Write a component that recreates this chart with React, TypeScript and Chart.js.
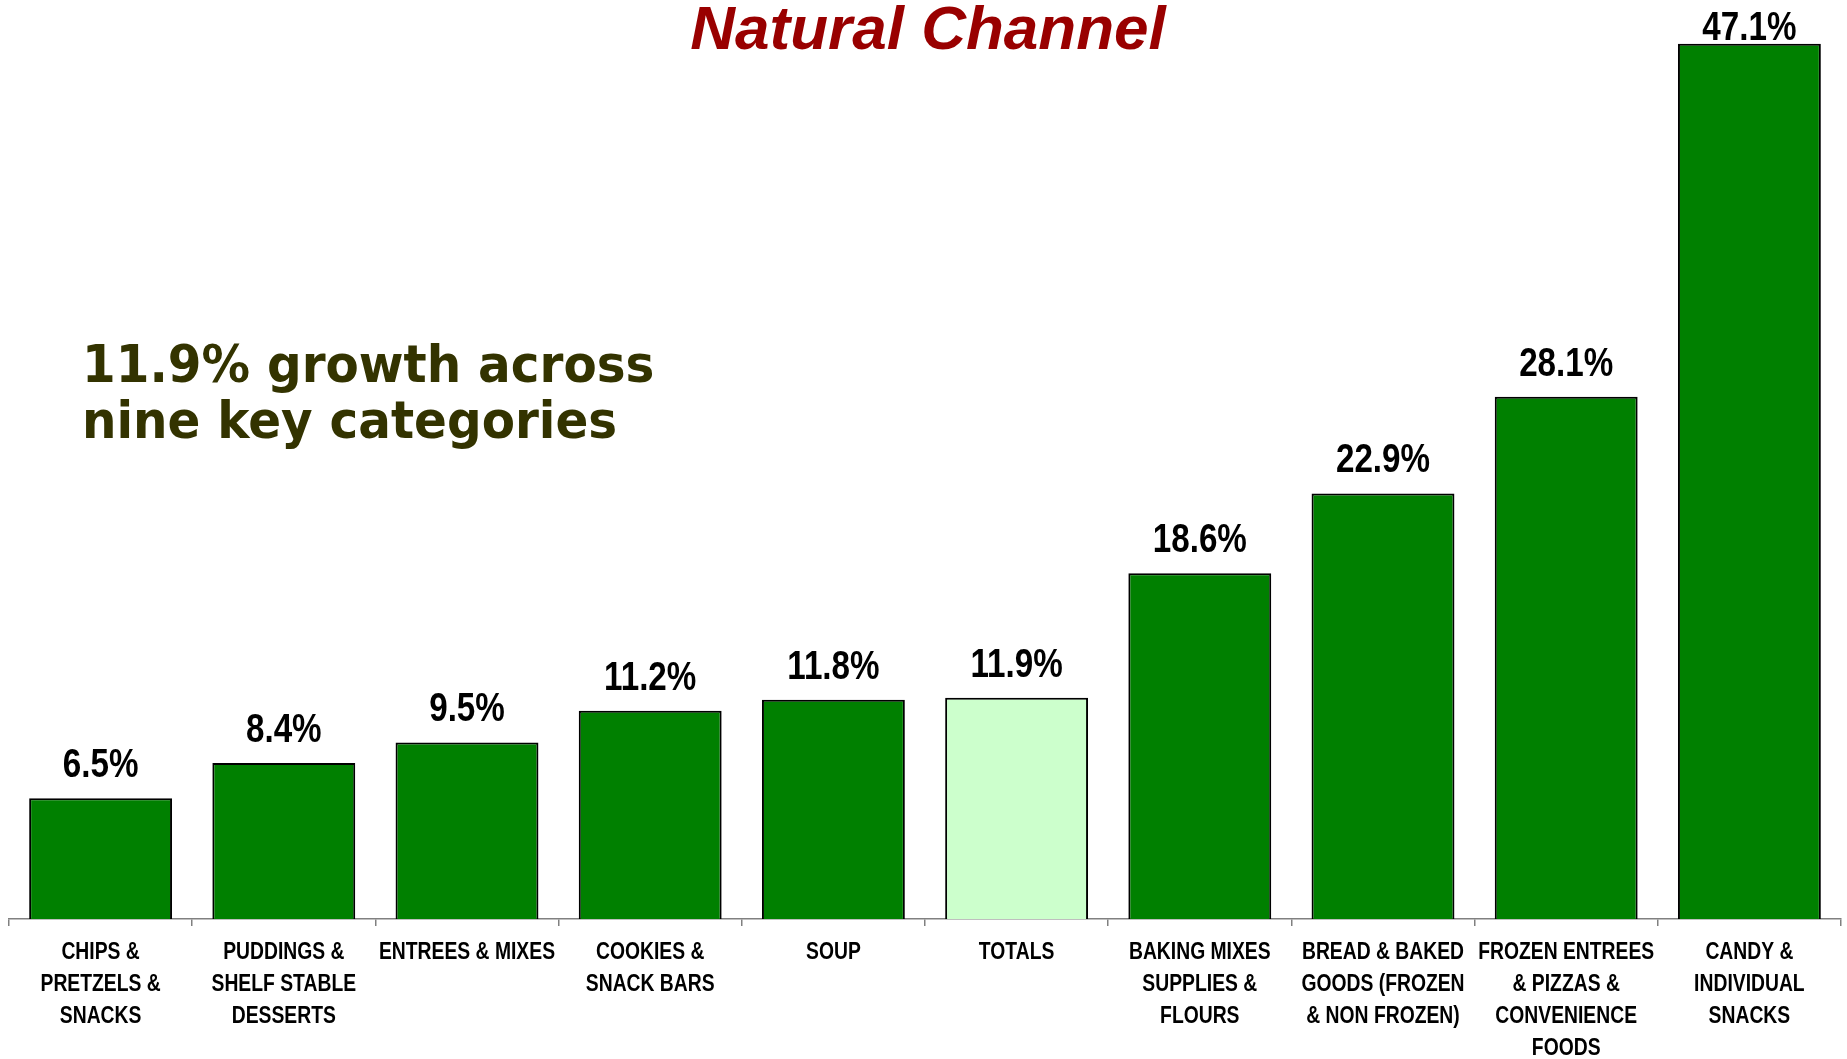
import React, { useEffect, useRef } from "react";
import { Chart, registerables } from "chart.js";

Chart.register(...registerables);

const TITLE = "Natural Channel";
const NOTE_LINES = ["11.9% growth across", "nine key categories"];

const categories: string[][] = [
  ["CHIPS &", "PRETZELS &", "SNACKS"],
  ["PUDDINGS &", "SHELF STABLE", "DESSERTS"],
  ["ENTREES & MIXES"],
  ["COOKIES &", "SNACK BARS"],
  ["SOUP"],
  ["TOTALS"],
  ["BAKING MIXES", "SUPPLIES &", "FLOURS"],
  ["BREAD & BAKED", "GOODS (FROZEN", "& NON FROZEN)"],
  ["FROZEN ENTREES", "& PIZZAS &", "CONVENIENCE", "FOODS"],
  ["CANDY &", "INDIVIDUAL", "SNACKS"],
];

const growth: number[] = [6.5, 8.4, 9.5, 11.2, 11.8, 11.9, 18.6, 22.9, 28.1, 47.1];

const HIGHLIGHT = "TOTALS";

const ARIAL = "'Liberation Sans', Arial, sans-serif";

function drawScaled(ctx: CanvasRenderingContext2D, text: string, x: number, y: number, sx: number) {
  ctx.save();
  ctx.translate(x, y);
  ctx.scale(sx, 1);
  ctx.fillText(text, 0, 0);
  ctx.restore();
}

const overlayPlugin = {
  id: "overlay",
  afterDatasetsDraw(chart: any) {
    const ctx = chart.ctx as CanvasRenderingContext2D;
    const meta = chart.getDatasetMeta(0);
    ctx.save();
    ctx.fillStyle = "#000000";
    ctx.font = `bold 40px ${ARIAL}`;
    ctx.textAlign = "center";
    ctx.textBaseline = "alphabetic";
    meta.data.forEach((bar: any, i: number) => {
      const y = Math.max(bar.y - 21, 40);
      drawScaled(ctx, growth[i].toFixed(1) + "%", bar.x, y, 0.83);
    });
    ctx.restore();
  },
  afterDraw(chart: any) {
    const ctx = chart.ctx as CanvasRenderingContext2D;
    const xScale = chart.scales.x;
    ctx.save();
    // category labels under the axis
    ctx.fillStyle = "#000000";
    ctx.font = `bold 23px ${ARIAL}`;
    ctx.textAlign = "center";
    ctx.textBaseline = "middle";
    const top = xScale.top;
    categories.forEach((lines, i) => {
      const x = xScale.getPixelForValue(i);
      lines.forEach((line, j) => {
        drawScaled(ctx, line, x, top + 34 + j * 31.8, 0.84);
      });
    });

    // title
    ctx.fillStyle = "#990000";
    ctx.font = `italic bold 62px ${ARIAL}`;
    ctx.textAlign = "center";
    ctx.textBaseline = "alphabetic";
    ctx.fillText(TITLE, 928, 49);

    // annotation
    ctx.fillStyle = "#333300";
    ctx.font = "bold 51px 'DejaVu Sans', sans-serif";
    ctx.textAlign = "left";
    NOTE_LINES.forEach((line, i) => {
      drawScaled(ctx, line, 82, 382 + i * 55.5, 0.95);
    });
    ctx.restore();
  },
};

export default function App() {
  const ref = useRef<HTMLCanvasElement | null>(null);

  useEffect(() => {
    if (!ref.current) return;
    const chart = new Chart(ref.current, {
      type: "bar",
      data: {
        labels: categories.map((c) => c.join(" ")),
        datasets: [
          {
            data: growth,
            backgroundColor: categories.map((c) => (c.join(" ") === HIGHLIGHT ? "#CCFFCC" : "#008000")),
            borderColor: "#000000",
            borderWidth: 2,
            categoryPercentage: 1,
            barPercentage: 0.78,
          },
        ],
      },
      options: {
        responsive: false,
        animation: false,
        devicePixelRatio: 1,
        layout: { padding: { left: 9, right: 6, top: 27, bottom: 0 } },
        plugins: {
          legend: { display: false },
          tooltip: { enabled: false },
          title: { display: false },
        },
        scales: {
          x: {
            offset: true,
            grid: {
              display: true,
              offset: true,
              drawOnChartArea: false,
              drawTicks: true,
              tickLength: 7,
              color: "#808080",
              lineWidth: 1.5,
            },
            border: { display: true, color: "#808080", width: 1.5 },
            ticks: {
              display: false,
              autoSkip: false,
            },
            afterFit(scale: any) {
              scale.height = 140;
            },
          },
          y: {
            display: false,
            min: 0,
            max: 48,
          },
        },
      },
      plugins: [overlayPlugin],
    });
    return () => chart.destroy();
  }, []);

  return (
    <div style={{ position: "fixed", left: 0, top: 0, width: 1847, height: 1059, background: "#ffffff" }}>
      <canvas ref={ref} width={1847} height={1059} style={{ display: "block", width: 1847, height: 1059 }} />
    </div>
  );
}
